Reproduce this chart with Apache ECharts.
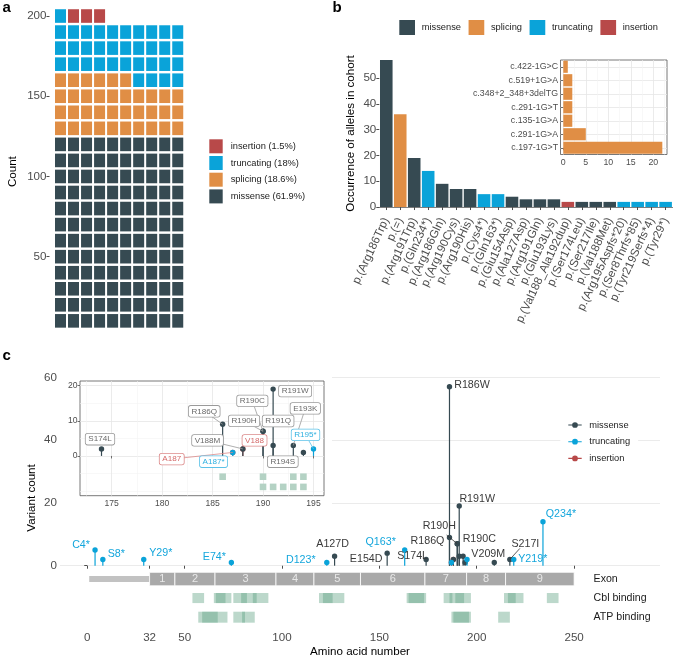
<!DOCTYPE html>
<html><head><meta charset="utf-8">
<script src="https://cdn.jsdelivr.net/npm/echarts@6/dist/echarts.min.js"></script>
<style>html,body{margin:0;padding:0;background:#fff}#c{width:674px;height:657px}</style>
</head><body><div id="c"></div>
<script>
// ================= DATA =================
// panel a (waffle)
const typeNames = ['missense', 'splicing', 'truncating', 'insertion'];
const typeCounts = [120, 36, 35, 3];
const waffleTicks = [50, 100, 150, 200];

// panel b (bars)
const barCategories = ['p.(Arg186Trp)', 'p.(=)', 'p.(Arg191Trp)', 'p.(Gln234*)', 'p.(Arg186Gln)', 'p.(Arg190Cys)', 'p.(Arg190His)', 'p.(Cys4*)', 'p.(Gln163*)', 'p.(Glu154Asp)', 'p.(Ala127Asp)', 'p.(Arg191Gln)', 'p.(Glu193Lys)', 'p.(Val188_Ala192dup)', 'p.(Ser174Leu)', 'p.(Ser217Ile)', 'p.(Val188Met)', 'p.(Arg195Aspfs*20)', 'p.(Ser8Thrfs*85)', 'p.(Tyr219Serfs*4)', 'p.(Tyr29*)'];
const barValues = [57, 36, 19, 14, 9, 7, 7, 5, 5, 4, 3, 3, 3, 2, 2, 2, 2, 2, 2, 2, 2];
const barTypes = ['missense', 'splicing', 'missense', 'truncating', 'missense', 'missense', 'missense', 'truncating', 'truncating', 'missense', 'missense', 'missense', 'missense', 'insertion', 'missense', 'missense', 'missense', 'truncating', 'truncating', 'truncating', 'truncating'];
const barTicks = [0, 10, 20, 30, 40, 50];

// panel b inset (splice variants)
const spliceVariants = ['c.422-1G>C', 'c.519+1G>A', 'c.348+2_348+3delTG', 'c.291-1G>T', 'c.135-1G>A', 'c.291-1G>A', 'c.197-1G>T'];
const spliceCounts = [1, 2, 2, 2, 2, 5, 22];
const spliceTicks = [0, 5, 10, 15, 20];
const spliceMinorTicks = [2.5, 7.5, 12.5, 17.5, 22.5];

// panel c (lollipop)
const varNames = ['C4*', 'S8*', 'Y29*', 'E74*', 'D123*', 'A127D', 'E154D', 'Q163*', 'S174L', 'R186W', 'R186Q', 'A187', 'A187*', 'V188', 'V188M', 'R190C', 'R190H', 'R191W', 'R191Q', 'E193K', 'R194S', 'R195*', 'V209M', 'S217I', 'Y219*', 'Q234*'];
const varPositions = [4, 8, 29, 74, 123, 127, 154, 163, 174, 186, 186, 187, 187, 188, 188, 190, 190, 191, 191, 193, 194, 195, 209, 217, 219, 234];
const varCounts = [5, 2, 2, 1, 1, 3, 4, 5, 2, 57, 9, 1, 1, 2, 2, 7, 7, 19, 3, 3, 1, 2, 1, 2, 2, 14];
const varTypes = ['truncating', 'truncating', 'truncating', 'truncating', 'truncating', 'missense', 'missense', 'truncating', 'missense', 'missense', 'missense', 'insertion', 'truncating', 'insertion', 'missense', 'missense', 'missense', 'missense', 'missense', 'missense', 'missense', 'truncating', 'missense', 'missense', 'truncating', 'truncating'];
const countTicks = [0, 20, 40, 60];
const aaTicks = [0, 32, 50, 100, 150, 200, 250];
const exonEdges = [32, 45, 65.6, 96.9, 116.4, 140.3, 173.4, 194.8, 214.8, 250];
const exonNames = ['1', '2', '3', '4', '5', '6', '7', '8', '9'];
const leaderRange = [1, 32];
const cblRanges = [[54, 60], [65, 74], [66, 71], [75, 93], [79, 82], [85, 87], [119, 132], [121, 126], [164, 174], [165, 173], [183, 197], [186, 187.5], [189, 193.5], [214, 224], [216, 220], [236, 242]];
const atpRanges = [[57, 72], [59, 67], [75, 86], [79.5, 81], [187, 197], [188, 196], [211, 217]];
const trackNames = ['Exon', 'Cbl binding', 'ATP binding'];
// panel c inset
const insetTicksX = [175, 180, 185, 190, 195];
const insetMinorX = [172.5, 177.5, 182.5, 187.5, 192.5];
const insetTicksY = [0, 10, 20];
const insetMinorY = [-10, -5, 5, 15];
const insetCblResidues = [186, 190, 193, 194];
const insetAtpResidues = [190, 191, 192, 193, 194];

// ================= STYLE / LAYOUT =================
const F = 'Liberation Sans, Arial, Helvetica, sans-serif';
const COL = {missense: '#364a52', splicing: '#e08e45', truncating: '#0aa3d9', insertion: '#b84949'};
const LABCOL = {missense: '#3a3a3a', truncating: '#14a6dc', insertion: '#c85a5a'};
const INSCOL = {missense: '#6a6a6a', truncating: '#2fb0e0', insertion: '#d46a6a'};
const INSBORDER = {missense: '#9a9a9a', truncating: '#5cc2e8', insertion: '#dc8a8a'};
const AX = '#4d4d4d';
// track layout (y centers / half heights in count units)
const L = {exon: [-4.25, 2.15], lead: [-4.25, 0.95], cbl: [-10.3, 1.6], atp: [-16.4, 1.75], labelX: 260, insCbl: -5.9, insAtp: -8.8};
// label placement offsets (px, relative to point)
const mainLabelLayout = {
  'C4*': [-14, -5], 'S8*': [13.5, -5], 'Y29*': [17, -6], 'E74*': [-17, -6], 'D123*': [-26, -3], 'A127D': [-2, -12],
  'E154D': [-21, 6], 'Q163*': [-24, -8], 'S174L': [-13.5, -3], 'R186Q': [-22, 4], 'R190H': [-18, -18], 'R190C': [22, -5],
  'R191W': [18, -7], 'R186W': [22.5, -2], 'V209M': [-6, -9], 'S217I': [15.5, -15], 'Y219*': [19, 0], 'Q234*': [18, -7.5]
};
const mainLeaders = {'R190H': [-10.7, -8.7], 'S217I': [10, -11]};
const insetLabelLayout = {
  'S174L': [-1.5, -9.7], 'R186Q': [-18.4, -13], 'R190C': [-10.7, -30.4], 'R190H': [-19, -10.4], 'R191W': [22, 2],
  'R191Q': [5, -24.4], 'E193K': [12, -37], 'V188M': [-35.3, -8.5], 'V188': [11.7, -8.5], 'R195*': [-8, -14],
  'A187': [-61, 6.7], 'A187*': [-19.2, 9.3], 'R194S': [-20.6, 9.3]
};
const insetLeaders = ['R186Q', 'R190C', 'R190H', 'E193K', 'V188M', 'A187', 'R195*'];

// ================= DERIVED =================
const total = typeCounts.reduce((a, b) => a + b, 0);
const pct = {};
typeNames.forEach((t, k) => { pct[t] = Math.round(typeCounts[k] / total * 1000) / 10; });
const waffle = {};
let idx = 0;
typeNames.forEach((t, k) => {
  waffle[t] = [];
  for (let j = 0; j < typeCounts[k]; j++, idx++) waffle[t].push([idx % 10 + 1, (Math.floor(idx / 10) + 1) * 10]);
});
const variants = varNames.map((n, i) => ({name: n, pos: varPositions[i], count: varCounts[i], type: varTypes[i]}));
const insetVariants = variants.filter(v => v.pos >= 172 && v.pos <= 196 && v.count <= 21);

const legendIconLP = 'path://M0,2.4L14,2.4L14,3.6L0,3.6Z M7,0A3,3,0,1,1,6.99,0Z';

function lollipop(type, list, xi, yi, r, lw, z) {
  const d = list.filter(v => v.type === type).map(v => [v.pos, v.count]);
  return {
    type: 'custom', name: type, xAxisIndex: xi, yAxisIndex: yi, z: z, silent: true,
    data: d, encode: {x: 0, y: 1},
    renderItem(params, api) {
      const p0 = api.coord([api.value(0), 0]);
      const p1 = api.coord([api.value(0), api.value(1)]);
      return {type: 'group', children: [
        {type: 'line', shape: {x1: p0[0], y1: p0[1], x2: p1[0], y2: p1[1]}, style: {stroke: COL[type], lineWidth: lw}},
        {type: 'circle', shape: {cx: p1[0], cy: p1[1], r: r}, style: {fill: COL[type]}}
      ]};
    }
  };
}

function rangeSeries(ranges, lay, fill) {
  return {
    type: 'custom', xAxisIndex: 4, yAxisIndex: 4, z: 2, silent: true, data: ranges,
    dimensions: ['s', 'e'], encode: {x: ['s', 'e']},
    renderItem(params, api) {
      const a = api.coord([api.value(0), lay[0] + lay[1]]);
      const b = api.coord([api.value(1), lay[0] - lay[1]]);
      return {type: 'rect', shape: {x: a[0], y: a[1], width: b[0] - a[0], height: b[1] - a[1]}, style: {fill: fill}};
    }
  };
}

const mainLabelList = variants.filter(v => mainLabelLayout[v.name]);
const insetLabelList = insetVariants.filter(v => insetLabelLayout[v.name]);

const noAxis = {show: false};
function hiddenAxis(gi, extra) { return Object.assign({gridIndex: gi, type: 'value', show: false, min: 0, max: 1}, extra || {}); }

const option = {
  animation: false,
  textStyle: {fontFamily: F},
  graphic: [
    {type: 'text', x: 2.5, y: 8.3, style: {text: 'a', fontSize: 15, fontWeight: 'bold', fontFamily: F, fill: '#000', verticalAlign: 'middle'}},
    {type: 'text', x: 332.5, y: 8.3, style: {text: 'b', fontSize: 15, fontWeight: 'bold', fontFamily: F, fill: '#000', verticalAlign: 'middle'}},
    {type: 'text', x: 2.5, y: 355.5, style: {text: 'c', fontSize: 15, fontWeight: 'bold', fontFamily: F, fill: '#000', verticalAlign: 'middle'}}
  ],
  grid: [
    {left: 49.5, top: 6.4, width: 143.3, height: 330.5, containLabel: false, outerBoundsMode: 'none'},
    {left: 379.3, top: 52.6, width: 293.3, height: 161.8, containLabel: false, outerBoundsMode: 'none'},
    {left: 560.5, top: 60, width: 106.5, height: 94.5, show: true, backgroundColor: '#fff', borderColor: '#555', borderWidth: 0.8, z: 2, containLabel: false, outerBoundsMode: 'none'},
    {left: 60, top: 367.9, width: 600, height: 260.1, containLabel: false, outerBoundsMode: 'none'},
    {left: 58, top: 370, width: 274, height: 143, show: true, backgroundColor: '#fff', borderWidth: 0, z: 1, containLabel: false, outerBoundsMode: 'none'},
    {left: 80, top: 381, width: 244, height: 114.7, show: true, backgroundColor: '#fff', borderColor: '#555', borderWidth: 0.8, z: 2, containLabel: false, outerBoundsMode: 'none'}
  ],
  xAxis: [
    {gridIndex: 0, type: 'value', min: 0.156, max: 11.156, show: false},
    {gridIndex: 1, type: 'category', data: barCategories,
      axisLine: {show: true, lineStyle: {color: '#7f7f7f', width: 1}},
      axisTick: {show: true, alignWithLabel: true, length: 3, lineStyle: {color: AX, width: 1}},
      axisLabel: {interval: 0, rotate: 65, margin: 4, color: AX, fontSize: 11.6, fontFamily: F, hideOverlap: false},
      splitLine: {show: false}},
    {gridIndex: 2, type: 'value', min: -0.62, max: 23.04, z: 3,
      axisLine: {show: false},
      axisTick: {show: true, length: 2.5, customValues: spliceTicks, lineStyle: {color: AX, width: 0.8}},
      axisLabel: {customValues: spliceTicks, color: AX, fontSize: 8.8, margin: 3.5, fontFamily: F, hideOverlap: false},
      splitLine: {show: true, lineStyle: {color: '#e6e6e6', width: 0.8}}},
    {gridIndex: 2, type: 'value', min: -0.62, max: 23.04, z: 3,
      axisLine: {show: false}, axisTick: {show: false, customValues: spliceMinorTicks}, axisLabel: {show: false},
      splitLine: {show: true, lineStyle: {color: '#f3f3f3', width: 0.6}}},
    {gridIndex: 3, type: 'value', min: -14.0, max: 294.1,
      axisLine: {show: false},
      axisTick: {show: true, length: 3, customValues: aaTicks, lineStyle: {color: AX, width: 1}},
      axisLabel: {customValues: aaTicks, color: AX, fontSize: 11.6, margin: 4, fontFamily: F, hideOverlap: false},
      splitLine: {show: false},
      name: 'Amino acid number', nameLocation: 'middle', nameGap: 18, nameMoveOverlap: false,
      nameTextStyle: {fontSize: 11.6, color: '#000', fontFamily: F}},
    hiddenAxis(4),
    {gridIndex: 5, type: 'value', min: 171.87, max: 196.04, z: 3,
      axisLine: {show: false},
      axisTick: {show: true, length: 2.5, customValues: insetTicksX, lineStyle: {color: AX, width: 0.8}},
      axisLabel: {customValues: insetTicksX, color: AX, fontSize: 8.6, margin: 3, fontFamily: F, hideOverlap: false},
      splitLine: {show: true, lineStyle: {color: '#e6e6e6', width: 0.8}}},
    {gridIndex: 5, type: 'value', min: 171.87, max: 196.04, z: 3,
      axisLine: {show: false}, axisTick: {show: false, customValues: insetMinorX}, axisLabel: {show: false},
      splitLine: {show: true, lineStyle: {color: '#f3f3f3', width: 0.6}}}
  ],
  yAxis: [
    {gridIndex: 0, type: 'value', min: 0, max: 206,
      axisLine: {show: false},
      axisTick: {show: true, length: 3, customValues: waffleTicks, lineStyle: {color: AX, width: 1}},
      axisLabel: {customValues: waffleTicks, color: AX, fontSize: 11.6, margin: 3, fontFamily: F, hideOverlap: false},
      splitLine: {show: false},
      name: 'Count', nameLocation: 'middle', nameGap: 30.7, nameMoveOverlap: false,
      nameTextStyle: {fontSize: 11.6, color: '#000', fontFamily: F}},
    {gridIndex: 1, type: 'value', min: -2.85, max: 59.85,
      axisLine: {show: false},
      axisTick: {show: true, length: 3, customValues: barTicks, lineStyle: {color: AX, width: 1}},
      axisLabel: {customValues: barTicks, color: AX, fontSize: 11.6, margin: 3, fontFamily: F, hideOverlap: false},
      splitLine: {show: false},
      name: 'Occurrence of alleles in cohort', nameLocation: 'middle', nameGap: 22.5, nameMoveOverlap: false,
      nameTextStyle: {fontSize: 11.6, color: '#000', fontFamily: F}},
    {gridIndex: 2, type: 'category', data: spliceVariants, inverse: true, z: 3,
      axisLine: {show: false},
      axisTick: {show: true, alignWithLabel: true, length: 2.5, lineStyle: {color: AX, width: 0.8}},
      axisLabel: {interval: 0, color: AX, fontSize: 8.8, margin: 2.5, fontFamily: F, hideOverlap: false},
      splitLine: {show: false}},
    {gridIndex: 2, type: 'value', min: -0.5, max: 6.5, z: 3,
      axisLine: {show: false}, axisTick: {show: false, customValues: [0, 1, 2, 3, 4, 5, 6]}, axisLabel: {show: false},
      splitLine: {show: true, lineStyle: {color: '#e6e6e6', width: 0.8}}},
    {gridIndex: 3, type: 'value', min: -19.84, max: 63,
      axisLine: {show: false},
      axisTick: {show: true, length: 3, customValues: countTicks, lineStyle: {color: AX, width: 1}},
      axisLabel: {customValues: countTicks, color: AX, fontSize: 11.6, margin: 3, fontFamily: F, hideOverlap: false},
      splitLine: {show: true, lineStyle: {color: '#ebebeb', width: 1}},
      name: 'Variant count', nameLocation: 'middle', nameGap: 22.5, nameMoveOverlap: false,
      nameTextStyle: {fontSize: 11.6, color: '#000', fontFamily: F}},
    hiddenAxis(4),
    {gridIndex: 5, type: 'value', min: -11.3, max: 21.3, z: 3,
      axisLine: {show: false},
      axisTick: {show: true, length: 2.5, customValues: insetTicksY, lineStyle: {color: AX, width: 0.8}},
      axisLabel: {customValues: insetTicksY, color: AX, fontSize: 8.6, margin: 2.5, fontFamily: F, hideOverlap: false},
      splitLine: {show: true, lineStyle: {color: '#e6e6e6', width: 0.8}}},
    {gridIndex: 5, type: 'value', min: -11.3, max: 21.3, z: 3,
      axisLine: {show: false}, axisTick: {show: false, customValues: insetMinorY}, axisLabel: {show: false},
      splitLine: {show: true, lineStyle: {color: '#f3f3f3', width: 0.6}}}
  ],
  legend: [
    {left: 209.3, top: 139.3, orient: 'vertical', padding: 0, itemWidth: 13.4, itemHeight: 14, itemGap: 2.7,
      icon: 'rect', selectedMode: false, data: ['insertion', 'truncating', 'splicing', 'missense'],
      formatter: n => n + ' (' + pct[n] + '%)',
      textStyle: {fontSize: 9.3, color: '#222', fontFamily: F, padding: [0, 0, 0, 3]}},
    {left: 399.3, top: 20, orient: 'horizontal', padding: 0, itemWidth: 15.7, itemHeight: 15, itemGap: 7.6,
      icon: 'rect', selectedMode: false, data: ['missense', 'splicing', 'truncating', 'insertion'],
      textStyle: {fontSize: 9.3, color: '#222', fontFamily: F, padding: [0, 0, 0, 1.7]}},
    {left: 560.3, top: 415, orient: 'vertical', padding: [5, 8], itemWidth: 13.4, itemHeight: 6, itemGap: 6.7,
      backgroundColor: '#fff', selectedMode: false, z: 6,
      data: ['missense', 'truncating', 'insertion'].map(n => ({name: n, icon: legendIconLP})),
      textStyle: {fontSize: 9.3, color: '#222', fontFamily: F, lineHeight: 10, padding: [0, 0, 0, 2.6]}}
  ],
  series: [].concat(
    // ---- panel a
    typeNames.map(t => ({type: 'scatter', name: t, xAxisIndex: 0, yAxisIndex: 0, silent: true,
      symbol: 'rect', symbolSize: [11, 13.6], itemStyle: {color: COL[t], opacity: 1}, data: waffle[t]})),
    // ---- panel b bars
    typeNames.map(t => ({type: 'bar', name: t, xAxisIndex: 1, yAxisIndex: 1, stack: 'b', silent: true,
      barCategoryGap: '10%', itemStyle: {color: COL[t]},
      data: barValues.map((v, i) => barTypes[i] === t ? v : '-')})),
    // ---- panel b inset
    [{type: 'bar', name: 'splicing', xAxisIndex: 2, yAxisIndex: 2, z: 4, silent: true, barCategoryGap: '10%',
      itemStyle: {color: COL.splicing}, data: spliceCounts}],
    // ---- panel c tracks
    [{type: 'custom', xAxisIndex: 4, yAxisIndex: 4, z: 2, silent: true, data: [leaderRange],
      dimensions: ['s', 'e'], encode: {x: ['s', 'e']},
      renderItem(params, api) {
        const a = api.coord([api.value(0), L.lead[0] + L.lead[1]]);
        const b = api.coord([api.value(1), L.lead[0] - L.lead[1]]);
        return {type: 'rect', shape: {x: a[0], y: a[1], width: b[0] - a[0], height: b[1] - a[1]}, style: {fill: '#c2c2c2'}};
      }},
     {type: 'custom', xAxisIndex: 4, yAxisIndex: 4, z: 2, silent: true,
      data: exonNames.map((n, i) => [exonEdges[i], exonEdges[i + 1]]),
      dimensions: ['s', 'e'], encode: {x: ['s', 'e']},
      renderItem(params, api) {
        const a = api.coord([api.value(0), L.exon[0] + L.exon[1]]);
        const b = api.coord([api.value(1), L.exon[0] - L.exon[1]]);
        return {type: 'group', children: [
          {type: 'rect', shape: {x: a[0], y: a[1], width: b[0] - a[0], height: b[1] - a[1]}, style: {fill: '#a9a9a9', stroke: '#fff', lineWidth: 0.8}},
          {type: 'text', x: (a[0] + b[0]) / 2, y: (a[1] + b[1]) / 2, style: {text: exonNames[params.dataIndex], fill: '#e8e8e8', fontSize: 11, fontFamily: F, align: 'center', verticalAlign: 'middle'}}
        ]};
      }},
     rangeSeries(cblRanges, L.cbl, 'rgba(96,163,130,0.42)'),
     rangeSeries(atpRanges, L.atp, 'rgba(96,163,130,0.42)'),
     {type: 'custom', xAxisIndex: 4, yAxisIndex: 4, z: 2, silent: true, data: trackNames.map((n, i) => [i]),
      renderItem(params, api) {
        const ys = [L.exon[0], L.cbl[0], L.atp[0]];
        const p = api.coord([L.labelX, ys[params.dataIndex]]);
        return {type: 'text', x: p[0], y: p[1], style: {text: trackNames[params.dataIndex], fill: '#1a1a1a', fontSize: 10.6, fontFamily: F, align: 'left', verticalAlign: 'middle'}};
      }}],
    // ---- panel c main lollipops
    ['insertion', 'missense', 'truncating'].map((t, k) => lollipop(t, variants, 4, 4, 2.7, 1.2, 3 + k * 0.1)),
    // ---- panel c main labels
    [{type: 'custom', xAxisIndex: 4, yAxisIndex: 4, z: 5, silent: true,
      data: mainLabelList.map(v => [v.pos, v.count]), encode: {x: 0, y: 1},
      renderItem(params, api) {
        const v = mainLabelList[params.dataIndex];
        const p = api.coord([v.pos, v.count]);
        const o = mainLabelLayout[v.name];
        const ch = [];
        if (mainLeaders[v.name]) {
          const s = mainLeaders[v.name];
          ch.push({type: 'line', shape: {x1: p[0] + s[0], y1: p[1] + s[1], x2: p[0], y2: p[1]}, style: {stroke: '#333', lineWidth: 0.8}});
        }
        ch.push({type: 'text', x: p[0] + o[0], y: p[1] + o[1], style: {text: v.name, fill: LABCOL[v.type], fontSize: 10.7, fontFamily: F, align: 'center', verticalAlign: 'middle'}});
        return {type: 'group', children: ch};
      }}],
    // ---- panel c inset
    [{type: 'custom', xAxisIndex: 6, yAxisIndex: 6, z: 4, silent: true,
      data: insetCblResidues.map(r => [r, L.insCbl]).concat(insetAtpResidues.map(r => [r, L.insAtp])), encode: {x: 0, y: 1},
      renderItem(params, api) {
        const p = api.coord([api.value(0), api.value(1)]);
        return {type: 'rect', shape: {x: p[0] - 3.3, y: p[1] - 3.3, width: 6.6, height: 6.6}, style: {fill: '#b4d2c4'}};
      }}],
    ['insertion', 'missense', 'truncating'].map((t, k) => lollipop(t, insetVariants, 6, 6, 2.7, 1.2, 4 + k * 0.1)),
    [{type: 'custom', xAxisIndex: 6, yAxisIndex: 6, z: 6, silent: true,
      data: insetLabelList.map(v => [v.pos, v.count]), encode: {x: 0, y: 1},
      renderItem(params, api) {
        const v = insetLabelList[params.dataIndex];
        const p = api.coord([v.pos, v.count]);
        const o = insetLabelLayout[v.name];
        const ch = [];
        if (insetLeaders.indexOf(v.name) >= 0) {
          ch.push({type: 'line', z2: 1, shape: {x1: p[0] + o[0], y1: p[1] + o[1], x2: p[0], y2: p[1]}, style: {stroke: INSBORDER[v.type], lineWidth: 0.8}});
        }
        ch.push({type: 'text', z2: 2, x: p[0] + o[0], y: p[1] + o[1], style: {text: v.name, fill: INSCOL[v.type], fontSize: 8.1, fontFamily: F,
          align: 'center', verticalAlign: 'middle', backgroundColor: '#fff', borderColor: INSBORDER[v.type], borderWidth: 0.8,
          borderRadius: 2, padding: [1.6, 2.6, 1.2, 2.6]}});
        return {type: 'group', children: ch};
      }}]
  )
};

const chart = echarts.init(document.getElementById('c'), null, {renderer: 'canvas'});
chart.setOption(option);
</script>
</body></html>
